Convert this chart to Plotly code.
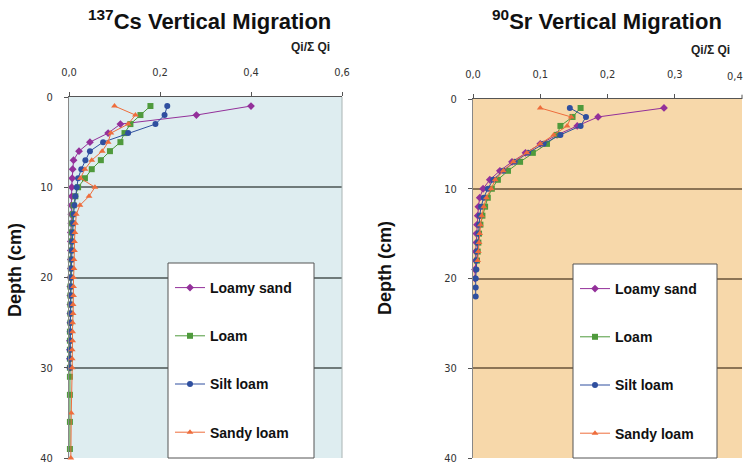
import plotly.graph_objects as go

# ---- 137Cs profiles (depth in cm, fraction Qi / sum Qi) ----
cs_depth = list(range(1, 31))
cs_loamy_sand = [0.400, 0.280, 0.113, 0.086, 0.046, 0.022, 0.010, 0.008, 0.007, 0.006,
                 0.006, 0.005, 0.005, 0.005, 0.004, 0.004, 0.004, 0.004, 0.004, 0.003,
                 0.003, 0.003, 0.003, 0.003, 0.003, 0.003, 0.002, 0.002, 0.002, 0.002]
cs_silt_loam = [0.216, 0.210, 0.190, 0.130, 0.075, 0.046, 0.036, 0.027, 0.020, 0.017,
                0.014, 0.012, 0.010, 0.009, 0.008, 0.007, 0.006, 0.006, 0.005, 0.005,
                0.004, 0.004, 0.004, 0.003, 0.003, 0.003, 0.003, 0.002, 0.002, 0.002]
cs_loam_depth = list(range(1, 31)) + [31, 33, 36, 39]
cs_loam = [0.179, 0.157, 0.135, 0.122, 0.113, 0.090, 0.070, 0.050, 0.035, 0.020,
           0.014, 0.010, 0.008, 0.007, 0.006, 0.005, 0.005, 0.004, 0.004, 0.004,
           0.003, 0.003, 0.003, 0.003, 0.003, 0.002, 0.002, 0.002, 0.002, 0.002,
           0.002, 0.002, 0.002, 0.002]
cs_sandy_depth = list(range(1, 31)) + [35, 40]
cs_sandy_loam = [0.100, 0.146, 0.130, 0.092, 0.086, 0.073, 0.050, 0.035, 0.025, 0.057,
                 0.044, 0.024, 0.016, 0.014, 0.013, 0.012, 0.012, 0.011, 0.011, 0.010,
                 0.010, 0.010, 0.009, 0.009, 0.008, 0.008, 0.008, 0.007, 0.007, 0.007,
                 0.005, 0.004]

# ---- 90Sr profiles ----
sr_ls_depth = list(range(1, 21))
sr_loamy_sand = [0.284, 0.186, 0.155, 0.125, 0.100, 0.078, 0.058, 0.040, 0.025, 0.015,
                 0.010, 0.008, 0.007, 0.006, 0.005, 0.005, 0.004, 0.004, 0.003, 0.003]
sr_loam_depth = list(range(1, 19))
sr_loam = [0.160, 0.148, 0.130, 0.125, 0.110, 0.089, 0.070, 0.052, 0.037, 0.028,
           0.022, 0.018, 0.014, 0.011, 0.009, 0.008, 0.007, 0.006]
sr_silt_depth = list(range(1, 23))
sr_silt_loam = [0.144, 0.168, 0.160, 0.130, 0.105, 0.082, 0.062, 0.045, 0.030, 0.022,
                0.016, 0.012, 0.010, 0.009, 0.008, 0.007, 0.006, 0.005, 0.005, 0.004,
                0.004, 0.004]
sr_sandy_depth = list(range(1, 19))
sr_sandy_loam = [0.100, 0.146, 0.140, 0.120, 0.100, 0.080, 0.060, 0.045, 0.033, 0.027,
                 0.020, 0.016, 0.013, 0.011, 0.010, 0.009, 0.008, 0.007]

series_names = ["Loamy sand", "Loam", "Silt loam", "Sandy loam"]
colors = ["#93309a", "#4f9a3c", "#2f4f9f", "#ee6d3c"]
symbols = ["diamond", "square", "circle", "triangle-up"]

y_ticks = [0, 10, 20, 30, 40]
cs_x_ticks = [0.0, 0.2, 0.4, 0.6]
cs_x_text = ["0,0", "0,2", "0,4", "0,6"]
sr_x_ticks = [0.0, 0.1, 0.2, 0.3]
sr_x_text = ["0,0", "0,1", "0,2", "0,3"]
sr_x_edge_text = "0,4"

W, H = 745, 467

def px(x):
    return x / W

def py(y):
    return 1 - y / H

fig = go.Figure()

cs_sets = [(cs_loamy_sand, cs_depth), (cs_loam, cs_loam_depth),
           (cs_silt_loam, cs_depth), (cs_sandy_loam, cs_sandy_depth)]
sr_sets = [(sr_loamy_sand, sr_ls_depth), (sr_loam, sr_loam_depth),
           (sr_silt_loam, sr_silt_depth), (sr_sandy_loam, sr_sandy_depth)]

for i, (vals, dep) in enumerate(cs_sets):
    fig.add_trace(go.Scatter(
        x=vals, y=dep, mode="lines+markers", name=series_names[i],
        line=dict(color=colors[i], width=1),
        marker=dict(color=colors[i], size=6, symbol=symbols[i]),
        xaxis="x", yaxis="y", legend="legend", legendgroup="cs%d" % i,
        cliponaxis=False))

for i, (vals, dep) in enumerate(sr_sets):
    fig.add_trace(go.Scatter(
        x=vals, y=dep, mode="lines+markers", name=series_names[i],
        line=dict(color=colors[i], width=1),
        marker=dict(color=colors[i], size=6, symbol=symbols[i]),
        xaxis="x2", yaxis="y2", legend="legend2", legendgroup="sr%d" % i,
        cliponaxis=False))

tick_font = dict(family="Liberation Sans Narrow, DejaVu Sans Condensed, sans-serif",
                 size=11, color="#333333")

def xaxis_cfg(domain, rng, vals, text, anchor):
    return dict(domain=domain, range=rng, side="top", anchor=anchor, automargin=False,
                tickvals=vals, ticktext=text, ticks="outside", ticklen=4,
                tickcolor="#555555", showline=True, linecolor="#555555", linewidth=1,
                showgrid=False, zeroline=False, tickfont=tick_font,
                ticklabelstandoff=12, fixedrange=True)

def yaxis_cfg(domain, anchor, gridcolor):
    return dict(domain=domain, range=[40, 0], anchor=anchor, automargin=False,
                tickvals=y_ticks, ticks="outside", ticklen=4, tickcolor="#555555",
                showline=True, linecolor="#888888", linewidth=1,
                showgrid=True, gridcolor=gridcolor, gridwidth=1.5,
                zeroline=False, tickfont=tick_font, ticklabelstandoff=9,
                fixedrange=True)

legend_common = dict(
    bgcolor="rgba(0,0,0,0)", borderwidth=0,
    font=dict(family="Liberation Sans, Arial, sans-serif",
              size=14, color="#111111", weight="bold"),
    tracegroupgap=27, itemwidth=30, xanchor="left", yanchor="top")

# legend frames (left, right) in pixels: x0, y0, x1, y1
cs_box = (168, 263, 314, 458)
sr_box = (573, 264, 717, 458)

fig.update_layout(
    width=W, height=H,
    template="none",
    margin=dict(l=0, r=0, t=0, b=0),
    paper_bgcolor="#ffffff",
    plot_bgcolor="#ffffff",
    showlegend=True,
    xaxis=xaxis_cfg([px(69), px(342)], [0, 0.6], cs_x_ticks, cs_x_text, "y"),
    yaxis=yaxis_cfg([py(458), py(97)], "x", "#6f7a7a"),
    xaxis2=xaxis_cfg([px(473), px(742)], [0, 0.4], sr_x_ticks, sr_x_text, "y2"),
    yaxis2=yaxis_cfg([py(458), py(99)], "x2", "#8c7455"),
    legend=dict(x=px(cs_box[0] + 2), y=py(cs_box[1] + 9), **legend_common),
    legend2=dict(x=px(sr_box[0] + 2), y=py(sr_box[1] + 9), **legend_common),
    shapes=[
        dict(type="rect", xref="x domain", yref="y domain", x0=0, x1=1, y0=0, y1=1,
             fillcolor="#deedf0", line=dict(width=0), layer="below"),
        dict(type="rect", xref="x2 domain", yref="y2 domain", x0=0, x1=1, y0=0, y1=1,
             fillcolor="#f7d8aa", line=dict(width=0), layer="below"),
        dict(type="line", xref="x domain", yref="y domain", x0=1, x1=1, y0=0, y1=1,
             line=dict(color="#aab4b4", width=1)),
        dict(type="line", xref="x2 domain", yref="y2 domain", x0=1, x1=1, y0=1, y1=1.012,
             line=dict(color="#555555", width=1)),
        dict(type="rect", xref="paper", yref="paper",
             x0=px(cs_box[0]), x1=px(cs_box[2]), y0=py(cs_box[3]), y1=py(cs_box[1]),
             fillcolor="#ffffff", line=dict(color="#555555", width=1), layer="above"),
        dict(type="rect", xref="paper", yref="paper",
             x0=px(sr_box[0]), x1=px(sr_box[2]), y0=py(sr_box[3]), y1=py(sr_box[1]),
             fillcolor="#ffffff", line=dict(color="#555555", width=1), layer="above"),
    ],
)

title_font = dict(family="Liberation Sans, Arial, sans-serif", size=22, color="#111111")
label_font = dict(family="Liberation Sans, Arial, sans-serif", size=12, color="#222222")
depth_font = dict(family="Liberation Sans, Arial, sans-serif", size=18, color="#111111")

def note(text, x, y, font, xanchor="center", angle=0):
    fig.add_annotation(text=text, x=px(x), y=py(y), xanchor=xanchor, yanchor="middle",
                       textangle=angle, xref="paper", yref="paper", showarrow=False,
                       font=font)

note("<b><sup>137</sup>Cs Vertical Migration</b>", 86, 20, title_font, xanchor="left")
note("<b><sup>90</sup>Sr Vertical Migration</b>", 490, 20, title_font, xanchor="left")
note("<b>Qi/Σ Qi</b>", 310, 47, label_font)
note("<b>Qi/Σ Qi</b>", 710, 50, label_font)
note("<b>Depth (cm)</b>", 15, 270, depth_font, angle=-90)
note("<b>Depth (cm)</b>", 385, 268, depth_font, angle=-90)
# last 90Sr tick label, kept inside the page at its right edge
note(sr_x_edge_text, 745, 76, tick_font, xanchor="right")

fig.write_html("out.html")
